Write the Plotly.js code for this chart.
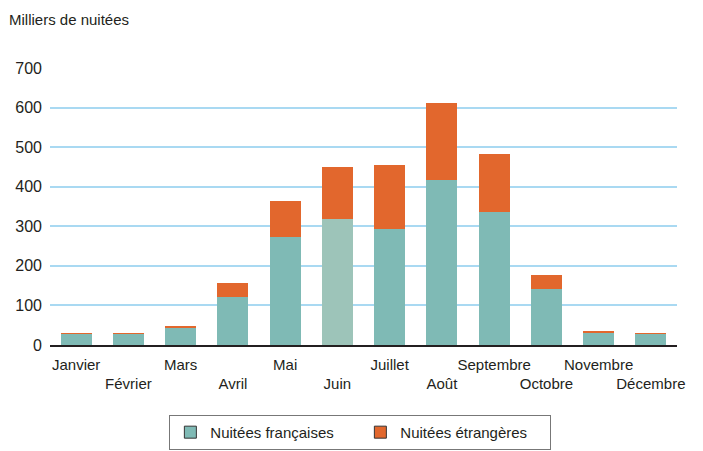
<!DOCTYPE html>
<html>
<head>
<meta charset="utf-8">
<script src="https://cdn.plot.ly/plotly-3.0.1.min.js"></script>
<style>
  html, body { margin: 0; padding: 0; background: #fff; }
  #plot { width: 703px; height: 451px; }
</style>
</head>
<body>
<div id="plot"></div>
<script>
// Monthly overnight stays, thousands
const months = ['Janvier', 'Février', 'Mars', 'Avril', 'Mai', 'Juin',
    'Juillet', 'Août', 'Septembre', 'Octobre', 'Novembre', 'Décembre'];
const francaises = [29, 29, 43, 121, 273, 318, 293, 417, 336, 141, 30, 29];
const etrangeres = [2, 2, 5, 36, 91, 132, 162, 194, 147, 37, 5, 2];
const yTicks = [0, 100, 200, 300, 400, 500, 600, 700];

// Every second label sits one line lower
const tickText = months.map((m, i) => i % 2 === 0 ? m : '<br>' + m);

const teal = '#7fbab5';
const tealLight = '#9dc4b9';
const orange = '#e2672d';

const trace1 = {
    x: months,
    y: francaises,
    type: 'bar',
    name: 'Nuitées françaises',
    marker: {
        color: months.map(m => m === 'Juin' ? tealLight : teal)
    },
    showlegend: false,
    hoverinfo: 'skip'
};

const trace2 = {
    x: months,
    y: etrangeres,
    type: 'bar',
    name: 'Nuitées étrangères',
    marker: { color: orange },
    showlegend: false,
    hoverinfo: 'skip'
};

// legend entries only (swatches with dark outline), no bars drawn
const leg1 = {
    x: [null], y: [null], type: 'bar', name: 'Nuitées françaises',
    marker: { color: teal, line: { color: '#333', width: 1 } }
};
const leg2 = {
    x: [null], y: [null], type: 'bar', name: 'Nuitées étrangères',
    marker: { color: orange, line: { color: '#333', width: 1 } }
};

const layout = {
    width: 703,
    height: 451,
    barmode: 'stack',
    bargap: 0.41,
    paper_bgcolor: '#fff',
    plot_bgcolor: '#fff',
    font: { family: 'Liberation Sans, Arial, sans-serif', size: 15, color: '#231f20' },
    margin: { l: 50, r: 26, t: 68, b: 106 },
    xaxis: {
        tickmode: 'array',
        tickvals: months,
        ticktext: tickText,
        tickangle: 0,
        ticks: '',
        ticklabelstandoff: 5,
        showgrid: false,
        showline: true,
        linecolor: '#231f20',
        linewidth: 1.5,
        fixedrange: true
    },
    yaxis: {
        range: [0, 700],
        tickmode: 'array',
        tickvals: yTicks,
        showgrid: true,
        gridcolor: '#a9d9f2',
        gridwidth: 2,
        zeroline: false,
        ticks: '',
        ticklabelstandoff: 7,
        tickfont: { size: 16 },
        fixedrange: true
    },
    annotations: [{
        text: 'Milliers de nuitées',
        xref: 'paper', yref: 'paper',
        x: -0.068, y: 1.175,
        xanchor: 'left', yanchor: 'middle',
        showarrow: false,
        font: { size: 15 }
    }],
    showlegend: true,
    legend: {
        orientation: 'h',
        xref: 'paper', yref: 'container',
        x: 0.495, xanchor: 'center',
        y: 0.08, yanchor: 'top',
        bordercolor: '#777',
        borderwidth: 1,
        entrywidth: 145,
        font: { size: 15 },
        traceorder: 'normal'
    }
};

Plotly.newPlot('plot', [trace1, trace2, leg1, leg2], layout, { displayModeBar: false, staticPlot: true });
</script>
</body>
</html>
